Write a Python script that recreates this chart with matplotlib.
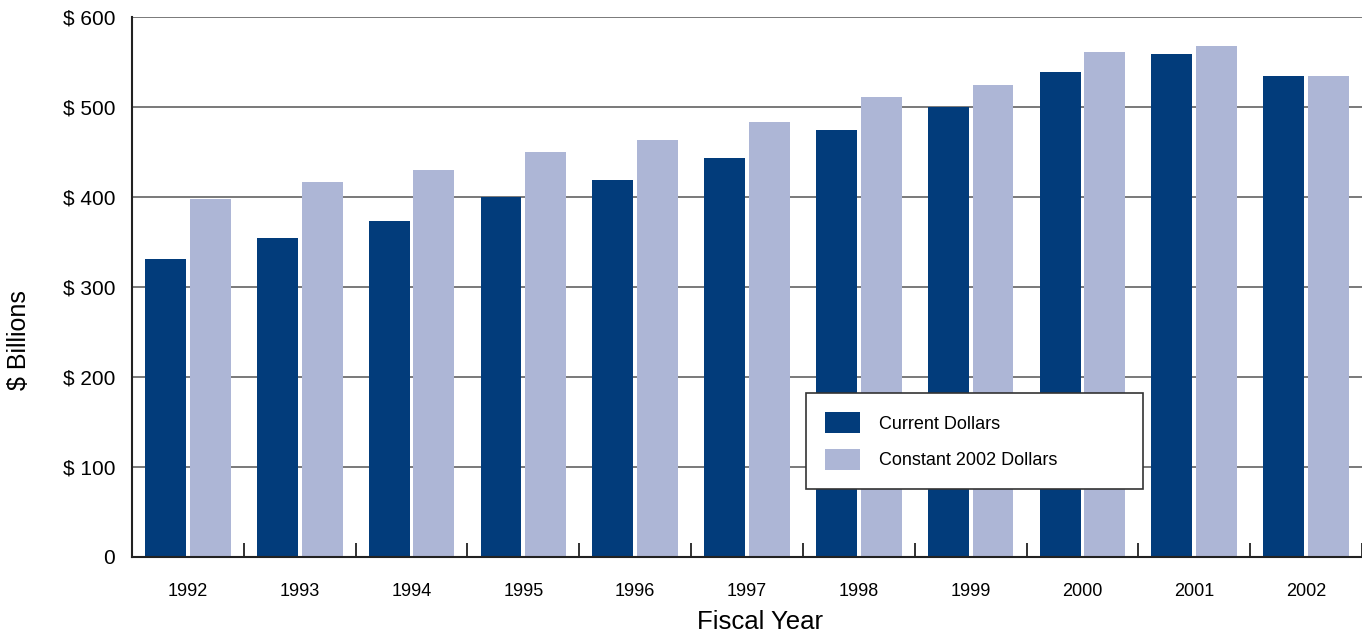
import matplotlib
matplotlib.use("Agg")
import matplotlib.pyplot as plt
import numpy as np
from matplotlib.patches import Patch

years = ["1992", "1993", "1994", "1995", "1996", "1997", "1998", "1999", "2000", "2001", "2002"]
current = [331, 354, 373, 400, 419, 443, 474, 500, 539, 559, 534]
constant = [398, 417, 430, 450, 463, 483, 511, 524, 561, 568, 534]
ytick_vals = [0, 100, 200, 300, 400, 500, 600]
ytick_labels = ["0", "$ 100", "$ 200", "$ 300", "$ 400", "$ 500", "$ 600"]

dark = "#023C7B"
light = "#ADB6D6"
plt.rcParams["font.family"] = ["Liberation Sans", "DejaVu Sans"]

fig = plt.figure(figsize=(13.62, 6.33), dpi=100)
ax = fig.add_axes([132/1362, 76/633, 1 - 132/1362, (557-17)/633])
ax.set_axisbelow(True)

x = np.arange(len(years))
w = 0.366
ax.bar(x - 0.2, current, width=w, color=dark, zorder=3)
ax.bar(x + 0.2, constant, width=w, color=light, zorder=3)

ax.set_xlim(-0.5, len(years) - 0.5)
ax.set_ylim(0, 600)
ax.set_yticks(ytick_vals)
ax.set_yticklabels(ytick_labels, fontsize=15)
ax.tick_params(axis="y", length=0, pad=12)
ax.yaxis.grid(True, color="#555555", linewidth=1.1)

ax.set_xticks(x)
ax.set_xticklabels(years, fontsize=13)
ax.tick_params(axis="x", which="major", length=0, pad=18.5)
ax.set_xticks(np.arange(len(years)) + 0.5, minor=True)
ax.tick_params(axis="x", which="minor", direction="in", length=10, width=1.3, color="#222222")

for s in ["top", "right"]:
    ax.spines[s].set_visible(False)
for s in ["left", "bottom"]:
    ax.spines[s].set_color("#222222")
    ax.spines[s].set_linewidth(1.5)
    ax.spines[s].set_zorder(4)

ax.set_xlabel("Fiscal Year", fontsize=18.5)
ax.xaxis.label.set_va("center")
ax.xaxis.set_label_coords((760-132)/1230, (557-622)/540)
ax.set_ylabel("$ Billions", fontsize=18)
ax.yaxis.label.set_va("center")
ax.yaxis.set_label_coords((19-132)/1230, (557-340)/540)

handles = [Patch(facecolor=dark, label="Current Dollars"),
           Patch(facecolor=light, label="Constant 2002 Dollars")]
leg = ax.legend(handles=handles, loc="upper left",
                bbox_to_anchor=((806-132)/1230, (557-494)/540, 337/1230, 101/540),
                mode="expand",
                frameon=True, fancybox=False, edgecolor="#333333",
                fontsize=13, handlelength=1.94, handleheight=1.45,
                handletextpad=1.05, borderpad=1.05, labelspacing=0.85,
                borderaxespad=0)
leg.get_frame().set_linewidth(1.2)
leg.get_frame().set_alpha(1)
leg.set_zorder(5)

fig.savefig("out.png", dpi=100)
